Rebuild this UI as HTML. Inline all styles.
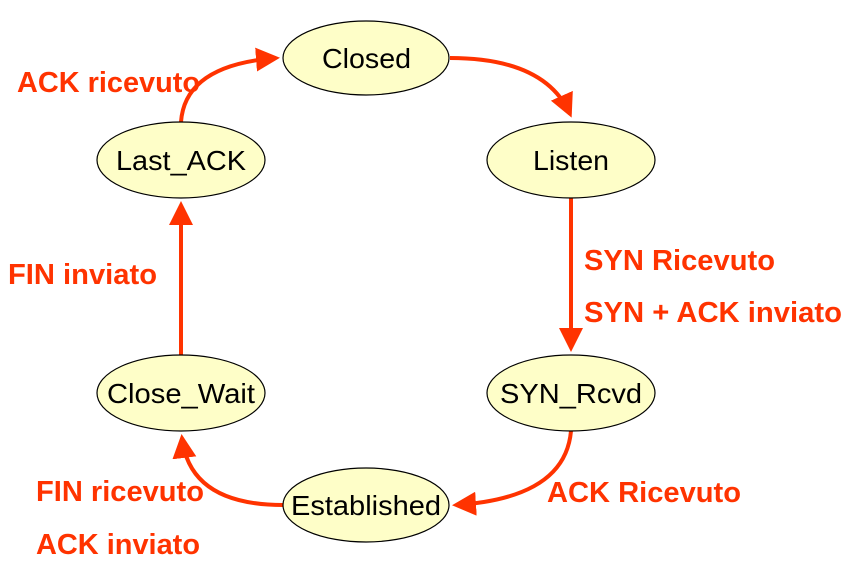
<!DOCTYPE html>
<html><head><meta charset="utf-8"><style>
html,body{margin:0;padding:0;background:#fff;}
svg{display:block}
.n{font-family:"Liberation Sans",sans-serif;font-size:28px;fill:#000}
.l{font-family:"Liberation Sans",sans-serif;font-size:29px;font-weight:bold;fill:#ff3300}
</style></head><body>
<svg width="854" height="582" viewBox="0 0 854 582" xmlns="http://www.w3.org/2000/svg">
<defs><marker id="a" markerWidth="6" markerHeight="6" refX="5" refY="3" orient="auto" markerUnits="strokeWidth"><path d="M0,0 L6,3 L0,6 Z" fill="#ff3300"/></marker></defs>
<g fill="none" stroke="#ff3300" stroke-width="4" marker-end="url(#a)">
<path d="M450,58 Q545,58 570,114"/>
<path d="M571,198 L571,348"/>
<path d="M571,431 Q565,498 456,505"/>
<path d="M283,505 Q190,505 182,438"/>
<path d="M181,355 L181,205"/>
<path d="M181,122 Q185,65 276,58"/>
</g>
<g fill="#fefec8" stroke="#000" stroke-width="1.2">
<ellipse cx="366" cy="58" rx="83" ry="37"/>
<ellipse cx="571" cy="160" rx="84" ry="38"/>
<ellipse cx="181" cy="160" rx="84" ry="38"/>
<ellipse cx="571" cy="393" rx="84" ry="38"/>
<ellipse cx="181" cy="393" rx="84" ry="38"/>
<ellipse cx="366" cy="505" rx="83" ry="37"/>
</g>
<g lengthAdjust="spacingAndGlyphs">
<text class="n" x="322" y="68" textLength="89" lengthAdjust="spacingAndGlyphs">Closed</text>
<text class="n" x="533" y="170" textLength="76" lengthAdjust="spacingAndGlyphs">Listen</text>
<text class="n" x="116" y="170" textLength="130" lengthAdjust="spacingAndGlyphs">Last_ACK</text>
<text class="n" x="500" y="403" textLength="142" lengthAdjust="spacingAndGlyphs">SYN_Rcvd</text>
<text class="n" x="107" y="403" textLength="148" lengthAdjust="spacingAndGlyphs">Close_Wait</text>
<text class="n" x="291" y="515" textLength="150" lengthAdjust="spacingAndGlyphs">Established</text>
<text class="l" x="17" y="92" textLength="183" lengthAdjust="spacingAndGlyphs">ACK ricevuto</text>
<text class="l" x="8" y="284" textLength="149" lengthAdjust="spacingAndGlyphs">FIN inviato</text>
<text class="l" x="584" y="270" textLength="191" lengthAdjust="spacingAndGlyphs">SYN Ricevuto</text>
<text class="l" x="584" y="322" textLength="258" lengthAdjust="spacingAndGlyphs">SYN + ACK inviato</text>
<text class="l" x="547" y="502" textLength="194" lengthAdjust="spacingAndGlyphs">ACK Ricevuto</text>
<text class="l" x="36" y="501" textLength="168" lengthAdjust="spacingAndGlyphs">FIN ricevuto</text>
<text class="l" x="36" y="554" textLength="164" lengthAdjust="spacingAndGlyphs">ACK inviato</text>
</g>
</svg>
</body></html>
